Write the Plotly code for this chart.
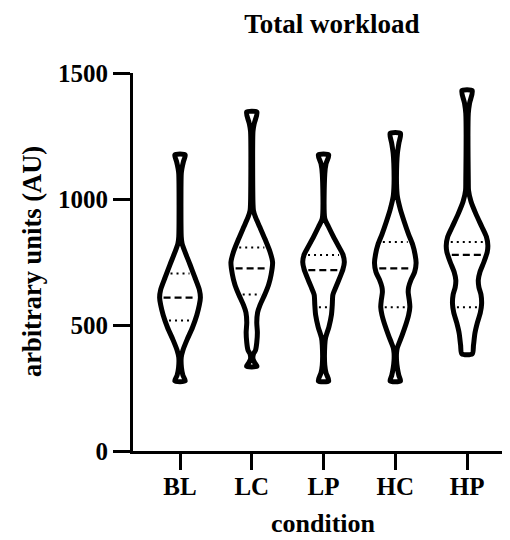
import numpy as np
import plotly.graph_objects as go

categories = ["BL", "LC", "LP", "HC", "HP"]

# Violin outlines: workload values (AU) and relative density (half-width, max = 1)
bl_values = [278, 300, 330, 372, 400, 440, 490, 540, 580, 609, 640, 690, 740, 790, 823, 850, 1100, 1120, 1150, 1175]
bl_density = [0.25, 0.14, 0.07, 0.06, 0.14, 0.33, 0.6, 0.81, 0.93, 0.98, 0.93, 0.71, 0.48, 0.24, 0.1, 0.06, 0.06, 0.09, 0.17, 0.25]

lc_values = [336, 350, 365, 385, 400, 430, 470, 510, 550, 580, 620, 660, 700, 749, 790, 840, 890, 930, 955, 980, 1270, 1300, 1345]
lc_density = [0.25, 0.14, 0.06, 0.08, 0.18, 0.24, 0.27, 0.24, 0.28, 0.4, 0.62, 0.81, 0.93, 1.0, 0.88, 0.64, 0.38, 0.17, 0.08, 0.06, 0.06, 0.12, 0.25]

lp_values = [278, 310, 340, 420, 450, 493, 540, 580, 620, 652, 690, 720, 750, 780, 810, 850, 890, 922, 1100, 1140, 1175]
lp_density = [0.25, 0.12, 0.06, 0.06, 0.1, 0.26, 0.38, 0.42, 0.45, 0.6, 0.79, 0.93, 1.0, 0.93, 0.74, 0.48, 0.24, 0.06, 0.06, 0.12, 0.25]

hc_values = [278, 300, 330, 360, 390, 410, 430, 460, 500, 540, 572, 600, 630, 650, 680, 710, 746, 780, 820, 860, 910, 960, 1010, 1060, 1140, 1180, 1220, 1260]
hc_density = [0.25, 0.17, 0.1, 0.06, 0.06, 0.1, 0.19, 0.33, 0.5, 0.64, 0.7, 0.67, 0.62, 0.64, 0.76, 0.93, 1.0, 0.95, 0.83, 0.64, 0.43, 0.24, 0.1, 0.06, 0.07, 0.1, 0.17, 0.25]

hp_values = [385, 420, 468, 510, 550, 585, 620, 650, 678, 710, 750, 790, 815, 850, 890, 940, 990, 1035, 1070, 1340, 1380, 1430]
hp_density = [0.25, 0.31, 0.38, 0.5, 0.64, 0.7, 0.67, 0.57, 0.54, 0.62, 0.81, 0.97, 1.0, 0.93, 0.71, 0.43, 0.19, 0.07, 0.06, 0.06, 0.12, 0.25]

q1 = [518, 621, 570, 570, 570]
median = [609, 725, 718, 725, 778]
q3 = [704, 808, 778, 829, 829]

profiles = [
    (bl_values, bl_density),
    (lc_values, lc_density),
    (lp_values, lp_density),
    (hc_values, hc_density),
    (hp_values, hp_density),
]

HALF_W = 0.29   # max half-width in category units
GAP = 0.055     # inset of quartile lines from outline

fig = go.Figure()

for i, (vals, dens) in enumerate(profiles):
    vals = np.array(vals, float)
    dens = np.array(dens, float)
    xs = np.concatenate([i - dens * HALF_W, (i + dens * HALF_W)[::-1], [i - dens[0] * HALF_W]])
    ys = np.concatenate([vals, vals[::-1], [vals[0]]])
    fig.add_trace(go.Scatter(
        x=xs, y=ys, mode="lines", fill="toself", fillcolor="white",
        line=dict(color="black", width=5, shape="spline", smoothing=0.7),
        hoverinfo="skip", showlegend=False,
    ))
    for q, dash, w in ((q1[i], "2px,4px", 2), (q3[i], "2px,4px", 2), (median[i], "7px,4px", 2.2)):
        hw = np.interp(q, vals, dens) * HALF_W - GAP
        fig.add_trace(go.Scatter(
            x=[i - hw, i + hw], y=[q, q], mode="lines",
            line=dict(color="black", width=w, dash=dash),
            hoverinfo="skip", showlegend=False,
        ))

font_family = "Liberation Serif, Times New Roman, serif"
axis_common = dict(
    showline=True, linewidth=3, linecolor="black",
    ticks="outside", tickwidth=3, tickcolor="black",
    showgrid=False, zeroline=False,
    tickfont=dict(family=font_family, size=25, color="black", weight="bold"),
)

# page body has an 8px margin, so figure coordinates are offset by 8px
L, T, PH = 125, 65, 378
fig.update_layout(
    width=510, height=540,
    margin=dict(l=L, r=0, t=T, b=540 - T - PH),
    paper_bgcolor="white", plot_bgcolor="white",
    title=dict(
        text="Total workload", xref="container", yref="container",
        x=324 / 510, y=1 - 16 / 540, xanchor="center", yanchor="middle",
        font=dict(family=font_family, size=27, color="black", weight="bold"),
    ),
    xaxis=dict(range=[-0.655, 4.71], tickvals=list(range(len(categories))),
               ticktext=categories, ticklen=16, ticklabelstandoff=-5, **axis_common),
    yaxis=dict(range=[0, 1500], tickvals=[0, 500, 1000, 1500], ticklen=17, **axis_common),
    annotations=[
        dict(text="arbitrary units (AU)", textangle=-90, xref="paper", yref="paper",
             x=(24 - L) / 385, y=0.5, xanchor="center", yanchor="middle", showarrow=False,
             font=dict(family=font_family, size=26.5, color="black", weight="bold")),
        dict(text="condition", xref="paper", yref="paper",
             x=(315 - L) / 385, y=(T + PH - 515) / PH, xanchor="center", yanchor="middle", showarrow=False,
             font=dict(family=font_family, size=26, color="black", weight="bold")),
    ],
)

fig.write_html("out.html")
